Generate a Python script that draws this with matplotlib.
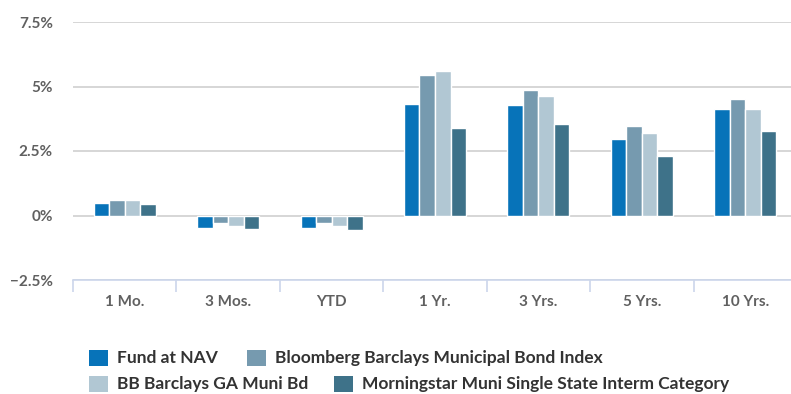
import matplotlib.pyplot as plt
from matplotlib.patches import Rectangle
import numpy as np

periods = ["1 Mo.", "3 Mos.", "YTD", "1 Yr.", "3 Yrs.", "5 Yrs.", "10 Yrs."]
fund_nav = [0.50, -0.50, -0.50, 4.34, 4.29, 2.97, 4.13]
muni_index = [0.59, -0.28, -0.28, 5.44, 4.87, 3.45, 4.50]
ga_muni = [0.59, -0.40, -0.40, 5.61, 4.65, 3.18, 4.13]
morningstar = [0.44, -0.54, -0.55, 3.40, 3.55, 2.29, 3.28]

names = ["Fund at NAV", "Bloomberg Barclays Municipal Bond Index",
         "BB Barclays GA Muni Bd", "Morningstar Muni Single State Interm Category"]
colors = ["#0773b9", "#769aaf", "#b1c7d3", "#3e7289"]
series = [fund_nav, muni_index, ga_muni, morningstar]

yticks = [-2.5, 0, 2.5, 5, 7.5]
ytick_labels = ["\u22122.5%", "0%", "2.5%", "5%", "7.5%"]

W, H = 791, 394
fig = plt.figure(figsize=(W / 100, H / 100), dpi=100)
font = ["Lato", "DejaVu Sans"]

# plot area in pixels: left 73, top 22, bottom 280, category width ~103.4
ax = fig.add_axes([73 / W, 1 - 280 / H, 724 / W, 258 / H])

x = np.arange(len(periods))
bw = 0.15
for i, (vals, c) in enumerate(zip(series, colors)):
    ax.bar(x + (i - 1.5) * bw, vals, width=bw, color=c,
           edgecolor="white", linewidth=1, zorder=3)

ax.set_xlim(-0.5, len(periods) - 0.5)
ax.set_ylim(-2.5, 7.5)

for s in ["top", "right", "left"]:
    ax.spines[s].set_visible(False)
ax.spines["bottom"].set_color("#ccd6eb")
ax.spines["bottom"].set_linewidth(1.2)

ax.set_yticks(yticks)
ax.set_yticklabels(ytick_labels, family=font, fontsize=11,
                   fontweight="bold", color="#606060")
ax.tick_params(axis="y", length=0, pad=14.5)
ax.yaxis.grid(True, color="#d0d0d0", linewidth=1.2, zorder=0)

# category boundaries get the tick marks, labels sit between
ax.set_xticks(np.arange(len(periods) + 1) - 0.5)
ax.set_xticklabels([])
ax.set_xticks(x, minor=True)
ax.set_xticklabels(periods, minor=True, family=font, fontsize=11,
                   fontweight="bold", color="#606060")
ax.tick_params(axis="x", which="major", length=8.5, width=1.2, color="#ccd6eb")
ax.tick_params(axis="x", which="minor", length=0, pad=11)

# legend, laid out in rows (pixel positions of each swatch)
legend_items = [(89, 358, 0), (247, 358, 1), (89, 384, 2), (334, 384, 3)]
for px, py, k in legend_items:
    fig.patches.append(Rectangle((px / W, 1 - (py + 8) / H), 19 / W, 16 / H,
                                 transform=fig.transFigure,
                                 facecolor=colors[k], edgecolor="none"))
    fig.text((px + 28) / W, 1 - py / H, names[k], family=font, fontsize=12.5,
             fontweight="bold", color="#333333", va="center", ha="left")

fig.savefig("out.png", dpi=100)
